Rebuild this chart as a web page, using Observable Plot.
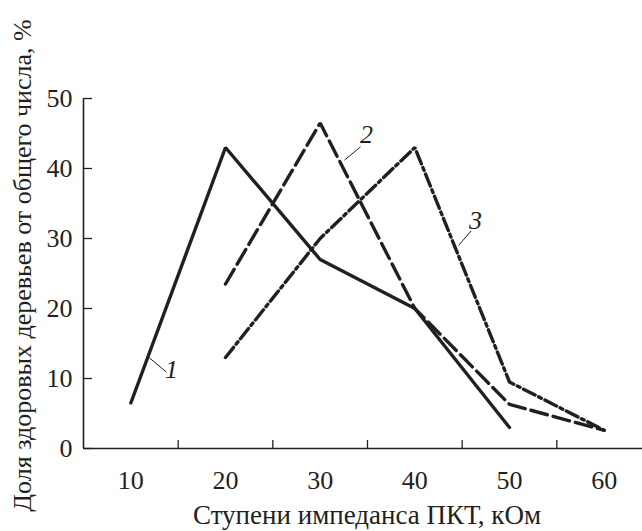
<!DOCTYPE html>
<html>
<head>
<meta charset="utf-8">
<script src="https://cdn.jsdelivr.net/npm/d3@7"></script>
<script src="https://cdn.jsdelivr.net/npm/@observablehq/plot@0.6"></script>
<style>
  html, body { margin: 0; padding: 0; background: #fff; }
  #chart svg { display: block; }
</style>
</head>
<body>
<div id="chart"></div>
<script>
// Categories (impedance steps, kOhm)
const steps = [10, 20, 30, 40, 50, 60];
// Series values (% of healthy trees), null where no value
const series1 = [6.5, 43, 27, 20, 3, null];
const series2 = [null, 23.5, 46.5, 20, 6.3, 2.6];
const series3 = [null, 13, 30, 43, 9.5, 2.6];
const seriesNames = ["1", "2", "3"];
// Tick labels
const yTicks = [0, 10, 20, 30, 40, 50];
const xTickMarks = [15, 25, 35, 45, 55];
const xTitle = "Ступени импеданса ПКТ, кОм";
const yTitle = "Доля здоровых деревьев от общего числа, %";
// Curve label annotations (data coordinates)
const labelX = [14.3, 34.9, 46.4];
const labelY = [11.2, 44.9, 32.6];
const leaderX1 = [11.97, 32.57, 44.64];
const leaderY1 = [12.94, 41.19, 29.04];
const leaderX2 = [13.73, 34.26, 45.95];
const leaderY2 = [10.94, 43.09, 31.09];

const toRows = (vals, name) => steps.map((s, i) => ({step: s, value: vals[i], series: name})).filter(d => d.value != null);
const rows1 = toRows(series1, "1");
const rows2 = toRows(series2, "2");
const rows3 = toRows(series3, "3");
const labels = seriesNames.map((n, i) => ({name: n, x: labelX[i], y: labelY[i], x1: leaderX1[i], y1: leaderY1[i], x2: leaderX2[i], y2: leaderY2[i]}));

const ink = "#231f20";
const font = "Liberation Serif";
const fs = 26;

const chart = Plot.plot({
  width: 642,
  height: 531,
  marginLeft: 83,
  marginRight: 0,
  marginTop: 98,
  marginBottom: 83,
  style: {fontFamily: font, fontSize: fs + "px", color: ink, background: "#fff"},
  x: {domain: [5, 64.05], axis: null},
  y: {domain: [0, 50], axis: null},
  marks: [
    // y axis: inward ticks + labels
    Plot.axisY(yTicks, {anchor: "left", tickSize: -9, tickPadding: 20, stroke: ink, fill: ink, strokeWidth: 1.3, fontSize: fs, fontFamily: font, label: null}),
    // x axis: inward ticks between categories
    Plot.axisX(xTickMarks, {anchor: "bottom", tickSize: -8, tickFormat: () => "", stroke: ink, strokeWidth: 1.3, label: null}),
    // x axis: category labels
    Plot.axisX(steps, {anchor: "bottom", tickSize: 0, tickPadding: 22, fill: ink, fontSize: fs, fontFamily: font, label: null}),
    // axis lines
    Plot.ruleY([0], {stroke: ink, strokeWidth: 1.6}),
    Plot.ruleX([5], {y1: 0, y2: 50, stroke: ink, strokeWidth: 1.6}),
    // series lines
    Plot.line(rows1, {x: "step", y: "value", stroke: ink, strokeWidth: 3.4, strokeLinejoin: "miter"}),
    Plot.line(rows2, {x: "step", y: "value", stroke: ink, strokeWidth: 3.4, strokeDasharray: "17,6", strokeLinejoin: "miter"}),
    Plot.line(rows3, {x: "step", y: "value", stroke: ink, strokeWidth: 3.4, strokeDasharray: "13,4,3,4", strokeLinejoin: "miter"}),
    // leader lines and curve numbers
    Plot.link(labels, {x1: "x1", y1: "y1", x2: "x2", y2: "y2", stroke: ink, strokeWidth: 1}),
    Plot.text(labels, {x: "x", y: "y", text: "name", fill: ink, fontSize: fs, fontFamily: font, fontStyle: "italic"}),
    // axis titles
    Plot.text([xTitle], {frameAnchor: "bottom", textAnchor: "middle", lineAnchor: "middle", dx: 4, dy: 67, fill: ink, fontSize: 27, fontFamily: font}),
    Plot.text([yTitle], {frameAnchor: "left", textAnchor: "middle", lineAnchor: "middle", rotate: -90, dx: -61, dy: -8, fill: ink, fontSize: fs, fontFamily: font})
  ]
});
chart.setAttribute("font-family", font);
document.getElementById("chart").appendChild(chart);
</script>
</body>
</html>
